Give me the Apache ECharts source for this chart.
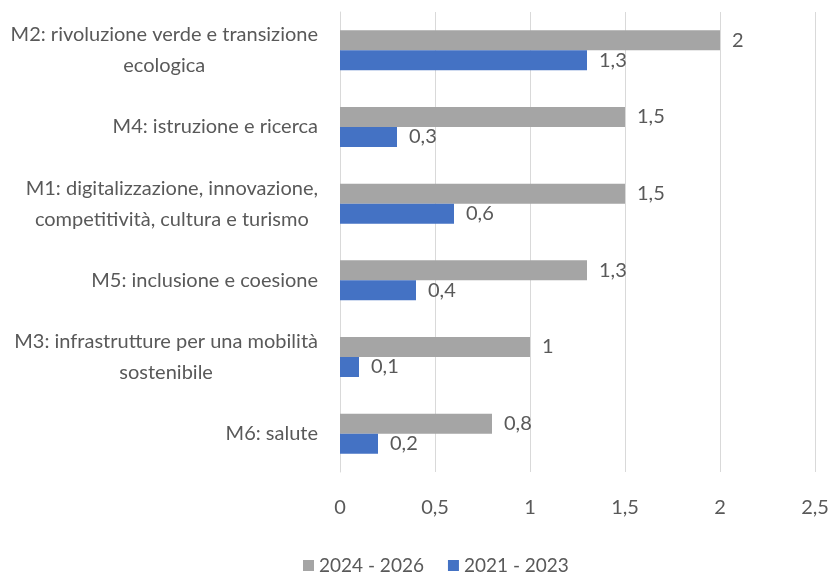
<!DOCTYPE html>
<html>
<head>
    <meta charset="utf-8"/>
    <title>Missioni PNRR</title>
    <script src="https://cdn.jsdelivr.net/npm/echarts@6/dist/echarts.min.js"></script>
    <style>
        html, body { margin: 0; padding: 0; background: #fff; }
        #main { width: 833px; height: 572px; }
    </style>
</head>
<body>
<div id="main"></div>
<script>
    // dati (dall'alto verso il basso)
    var categorie = [
        'M2: rivoluzione verde e transizione\necologica',
        'M4: istruzione e ricerca',
        'M1: digitalizzazione, innovazione,\ncompetitività, cultura e turismo',
        'M5: inclusione e coesione',
        'M3: infrastrutture per una mobilità\nsostenibile',
        'M6: salute'
    ];
    var serie2426 = [2, 1.5, 1.5, 1.3, 1, 0.8];
    var serie2123 = [1.3, 0.3, 0.6, 0.4, 0.1, 0.2];
    var tickX = [0, 0.5, 1, 1.5, 2, 2.5];

    var font = 'Lato, "Open Sans", sans-serif';
    var testo = '#595959';
    var virgola = function (v) { return String(v).replace('.', ','); };

    var myChart = echarts.init(document.getElementById('main'));
    var option = {
        animation: false,
        textStyle: { fontFamily: font },
        grid: { left: 340, right: 18, top: 12, bottom: 100, containLabel: false },
        legend: {
            top: 551,
            left: 298,
            itemWidth: 11,
            itemHeight: 11,
            itemGap: 24,
            icon: 'rect',
            textStyle: { fontSize: 19, color: testo, fontFamily: font },
            data: ['2024 - 2026', '2021 - 2023']
        },
        xAxis: {
            type: 'value',
            min: tickX[0],
            max: tickX[tickX.length - 1],
            interval: 0.5,
            axisLine: { show: false },
            axisTick: { show: false },
            splitLine: { lineStyle: { color: '#d9d9d9', width: 1 } },
            axisLabel: {
                margin: 26,
                fontSize: 20,
                color: testo,
                formatter: virgola
            }
        },
        yAxis: {
            type: 'category',
            inverse: true,
            data: categorie,
            axisLine: { show: true, lineStyle: { color: '#d9d9d9' } },
            axisTick: { show: false },
            axisLabel: {
                margin: 22,
                fontSize: 20,
                lineHeight: 31,
                color: testo,
                align: 'right',
                // righe centrate tra loro, blocco allineato a destra
                formatter: function (v) {
                    return v.split('\n').map(function (r) { return '{c|' + r + '}'; }).join('\n');
                },
                rich: {
                    c: { align: 'center', fontSize: 20, lineHeight: 31, color: testo, fontFamily: font }
                }
            }
        },
        series: [
            {
                name: '2024 - 2026',
                type: 'bar',
                data: serie2426,
                barWidth: 20,
                barGap: '0%',
                itemStyle: { color: '#a5a5a5' },
                label: {
                    show: true, position: 'right', distance: 12,
                    fontSize: 20, color: testo, formatter: function (p) { return virgola(p.value); }
                }
            },
            {
                name: '2021 - 2023',
                type: 'bar',
                data: serie2123,
                barWidth: 20,
                barGap: '0%',
                itemStyle: { color: '#4472c4' },
                label: {
                    show: true, position: 'right', distance: 12,
                    fontSize: 20, color: testo, formatter: function (p) { return virgola(p.value); }
                }
            }
        ]
    };
    myChart.setOption(option);
    window.onresize = function () { myChart.resize(); };
</script>
</body>
</html>
